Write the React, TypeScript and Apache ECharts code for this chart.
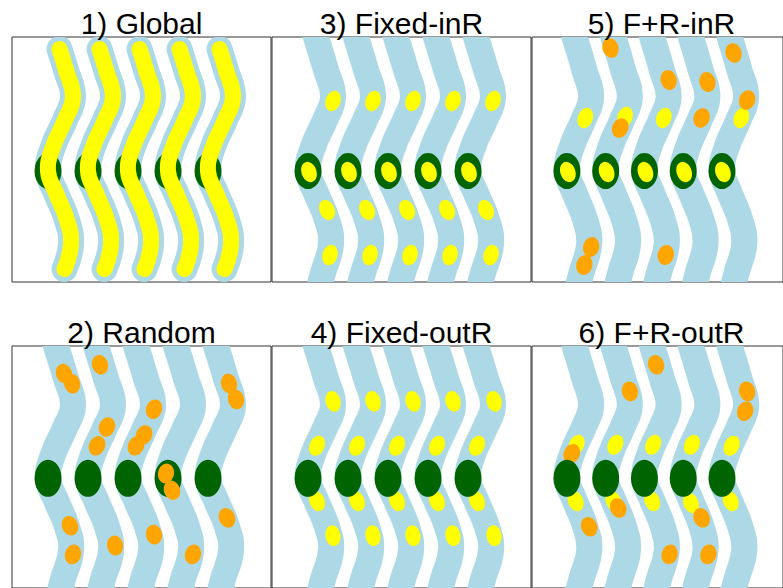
import React, { useEffect, useRef } from "react";
import * as echarts from "echarts";

// River centre line (map units, first river; the others are shifted)
const riverY = [-10, 0, 33, 60, 83, 110, 134, 156, 183, 207, 236, 255];
const riverX = [41, 44, 54, 61, 53, 41, 36, 44, 55, 59, 51, 46];
const riverOffsets = [0, 40, 80, 120, 160];

// Panel 1 (Global): sampled along the whole river
const globalPathY = [12, 33, 60, 83, 110, 134, 156, 183, 207, 232];
const globalPathX = [47.5, 54, 61, 53, 41, 36, 44, 55, 59, 52.5];

// Sites (dark green)
const siteX = [36, 76, 116, 156, 196];
const siteY = [134, 134, 134, 134, 134];

// Panel 2: Random (orange)
const randomOrange = [
  [52, 28], [60, 38], [88, 19], [95, 82], [85, 101], [142, 64], [124, 101], [132, 90],
  [217, 38], [224, 54], [154, 129], [160, 146], [215, 174], [58, 182], [61, 211],
  [103, 202], [142, 191], [181, 211],
];

// Panel 3: Fixed-inR (yellow)
const fixedInRYellow = [
  [61, 64], [101, 64], [141, 64], [181, 64], [221, 64],
  [37, 135], [77, 135], [117, 135], [157, 135], [197, 135],
  [55, 173], [95, 173], [135, 173], [175, 173], [214, 173],
  [58, 218], [98, 218], [138, 218], [178, 218], [219, 218],
];

// Panel 4: Fixed-outR (yellow)
const fixedOutRYellow = [
  [61, 56], [101, 56], [141, 56], [181, 56], [222, 56],
  [45, 101], [85, 101], [125, 101], [165, 101], [205, 101],
  [45, 157], [85, 157], [125, 157], [165, 157], [205, 157],
  [61, 192], [101, 192], [141, 192], [181, 192], [222, 192],
];

// Panel 5: F+R-inR
const frInRYellow = [
  [55, 81], [96, 80], [136, 81], [216, 81],
  [37, 135], [77, 135], [117, 135], [157, 135], [197, 135],
];
const frInROrange = [
  [81, 11], [141, 43], [181, 45], [208, 16], [222, 63], [175, 81], [91, 91],
  [61, 210], [54, 228], [138, 218],
];

// Panel 6: F+R-outR
const frOutRYellow = [
  [46, 100], [86, 100], [125, 100], [165, 100], [206, 101],
  [45, 157], [84, 157], [124, 157], [164, 159], [205, 157],
];
const frOutROrange = [
  [128, 19], [101, 46], [222, 46], [220, 66], [41, 109], [89, 164], [175, 174],
  [59, 183], [142, 211], [182, 211],
];

const titles = ["1) Global", "2) Random", "3) Fixed-inR", "4) Fixed-outR", "5) F+R-inR", "6) F+R-outR"];

const W = 259;
const H = 245;
const panelLeft = [12, 12, 272, 272, 532, 532];
const panelTop = [37, 346, 37, 346, 37, 346];

const BLUE = "#ADD8E6";
const YELLOW = "#FFFF00";
const GREEN = "#006400";
const ORANGE = "#FFA500";
const FONT = "'Liberation Sans', Arial, sans-serif";
const YSIZE = [15, 21];
const OSIZE = [16, 20];

function riverAngle(y: number): number {
  for (let k = 0; k < riverY.length - 1; k++) {
    if (y >= riverY[k] && y <= riverY[k + 1]) {
      const dx = riverX[k + 1] - riverX[k];
      const dy = riverY[k + 1] - riverY[k];
      return (Math.atan(dx / dy) * 180) / Math.PI;
    }
  }
  return 0;
}

function dots(pts: number[][]) {
  return pts.map((p) => ({ value: [p[0], p[1]], symbolRotate: riverAngle(p[1]) }));
}

export default function App() {
  const ref = useRef<HTMLDivElement>(null);
  useEffect(() => {
    if (!ref.current) return;
    const chart = echarts.init(ref.current, undefined, { renderer: "svg" });

    const series: any[] = [];
    const axisRef = (i: number) => ({ xAxisIndex: i, yAxisIndex: i });

    const scatter = (i: number, data: any[], color: string, size: number[], z: number) => ({
      type: "scatter",
      ...axisRef(i),
      data,
      symbol: "circle",
      symbolSize: size,
      itemStyle: { color, opacity: 1 },
      z,
      silent: true,
    });

    const rivers = (
      i: number,
      ys: number[],
      xs: number[],
      color: string,
      width: number,
      cap: string,
      z: number
    ) => ({
      type: "custom",
      coordinateSystem: "cartesian2d",
      ...axisRef(i),
      data: riverOffsets.map((o) => [o, 0]),
      silent: true,
      z,
      renderItem: (params: any, api: any) => {
        const o = api.value(0);
        const pts = ys.map((y, k) => api.coord([xs[k] + o, y]));
        const cs = params.coordSys;
        return {
          type: "polyline",
          shape: { points: pts, smooth: 0.45 },
          style: { stroke: color, lineWidth: width, fill: "none", lineCap: cap, lineJoin: "round" },
          clipPath: { type: "rect", shape: { x: cs.x, y: cs.y, width: cs.width, height: cs.height } },
        };
      },
    });

    for (let i = 0; i < 6; i++) {
      if (i === 0) series.push(rivers(i, globalPathY, globalPathX, BLUE, 26, "round", 1));
      else series.push(rivers(i, riverY, riverX, BLUE, 26, "butt", 1));
    }

    const sites = siteX.map((x, k) => [x, siteY[k]]);

    // Panel 1: Global
    series.push(scatter(0, sites, GREEN, [27, 36], 3));
    series.push(rivers(0, globalPathY, globalPathX, YELLOW, 16, "round", 4));

    // Panel 2: Random
    series.push(scatter(1, sites, GREEN, [27, 37], 3));
    series.push(scatter(1, dots(randomOrange), ORANGE, OSIZE, 5));

    // Panel 3: Fixed-inR
    series.push(scatter(2, sites, GREEN, [27, 36], 3));
    series.push(scatter(2, dots(fixedInRYellow), YELLOW, YSIZE, 4));

    // Panel 4: Fixed-outR
    series.push(scatter(3, dots(fixedOutRYellow), YELLOW, YSIZE, 3));
    series.push(scatter(3, sites, GREEN, [27, 37], 4));

    // Panel 5: F+R-inR
    series.push(scatter(4, sites, GREEN, [27, 36], 3));
    series.push(scatter(4, dots(frInRYellow), YELLOW, YSIZE, 4));
    series.push(scatter(4, dots(frInROrange), ORANGE, OSIZE, 5));

    // Panel 6: F+R-outR
    series.push(scatter(5, dots(frOutRYellow), YELLOW, YSIZE, 3));
    series.push(scatter(5, dots(frOutROrange), ORANGE, OSIZE, 4));
    series.push(scatter(5, sites, GREEN, [27, 37], 5));

    const option: any = {
      animation: false,
      grid: titles.map((_, i) => ({
        left: panelLeft[i],
        top: panelTop[i],
        width: W,
        height: H,
        show: true,
        borderColor: "#333333",
        borderWidth: 1,
        backgroundColor: "transparent",
        containLabel: false,
      })),
      xAxis: titles.map((_, i) => ({ type: "value", gridIndex: i, min: 0, max: W, show: false })),
      yAxis: titles.map((_, i) => ({ type: "value", gridIndex: i, min: 0, max: H, inverse: true, show: false })),
      series,
      graphic: titles.map((t, i) => ({
        type: "text",
        x: panelLeft[i] + W / 2,
        y: panelTop[i] - 14,
        z: 100,
        style: {
          text: t,
          fontSize: 30,
          fontFamily: FONT,
          fill: "#000000",
          align: "center",
          verticalAlign: "middle",
          textAlign: "center",
          textVerticalAlign: "middle",
        },
      })),
    };
    chart.setOption(option);
    return () => chart.dispose();
  }, []);

  return (
    <div
      ref={ref}
      style={{ position: "absolute", left: 0, top: 0, width: 783, height: 588, background: "#ffffff" }}
    />
  );
}
